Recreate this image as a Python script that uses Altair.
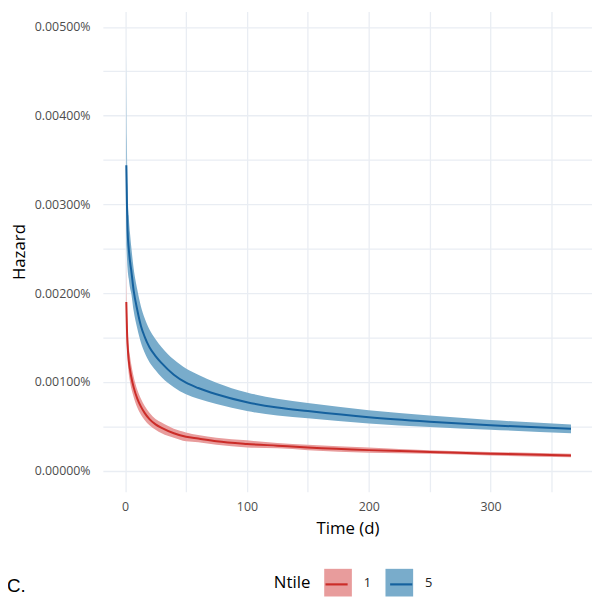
import altair as alt
import pandas as pd

# ---- data ----
times = [1, 1.5, 2, 3, 4, 5, 7, 10, 13, 16, 20, 25, 30, 40, 50, 60, 75, 100, 125, 150, 200, 250, 300, 366]

n5_mean = [0.00344, 0.00300, 0.00272, 0.00250, 0.00236, 0.00226, 0.00203, 0.00181, 0.00163, 0.00151,
           0.00139, 0.00129, 0.00121, 0.00108, 0.00099, 0.00093, 0.00086, 0.00077, 0.00071, 0.00067,
           0.00060, 0.00055, 0.00051, 0.00047]
n5_hi = [0.00470, 0.00370, 0.00320, 0.00287, 0.00268, 0.00253, 0.00228, 0.00204, 0.00185, 0.00172,
         0.00159, 0.00148, 0.00139, 0.00125, 0.00115, 0.00108, 0.00099, 0.00088, 0.00081, 0.00076,
         0.00068, 0.00062, 0.00057, 0.00052]
n5_lo = [0.00255, 0.00240, 0.00228, 0.00216, 0.00206, 0.00200, 0.00180, 0.00160, 0.00144, 0.00133,
         0.00122, 0.00113, 0.00105, 0.00094, 0.00086, 0.00081, 0.00075, 0.00067, 0.00062, 0.00059,
         0.00053, 0.00049, 0.00046, 0.00042]

n1_mean = [0.00190, 0.00160, 0.00143, 0.00124, 0.00114, 0.00106, 0.00094, 0.00081, 0.00072, 0.00065,
           0.00058, 0.00052, 0.00048, 0.00042, 0.00038, 0.00036, 0.00033, 0.00030, 0.00028, 0.00026,
           0.00023, 0.00021, 0.00019, 0.00017]
n1_hi = [0.00240, 0.00185, 0.00163, 0.00140, 0.00129, 0.00120, 0.00106, 0.00091, 0.00081, 0.00073,
         0.00065, 0.00058, 0.00054, 0.00047, 0.00043, 0.00040, 0.00037, 0.00034, 0.00031, 0.00029,
         0.00026, 0.00023, 0.00021, 0.00019]
n1_lo = [0.00150, 0.00138, 0.00125, 0.00109, 0.00100, 0.00093, 0.00083, 0.00071, 0.00063, 0.00057,
         0.00051, 0.00046, 0.00042, 0.00037, 0.00033, 0.00032, 0.00029, 0.00026, 0.00025, 0.00023,
         0.00020, 0.00019, 0.00017, 0.00015]

groups = ["1", "5"]
line_colors = ["#CB2C28", "#15619E"]
fill_colors = ["#E89C9C", "#79ACCB"]

y_ticks = [0, 0.0005, 0.001, 0.0015, 0.002, 0.0025, 0.003, 0.0035, 0.004, 0.0045, 0.005]
x_ticks = [0, 50, 100, 150, 200, 250, 300, 350]

rows = []
for g, m, lo, hi in [("1", n1_mean, n1_lo, n1_hi), ("5", n5_mean, n5_lo, n5_hi)]:
    for t, a, b, c in zip(times, m, lo, hi):
        rows.append({"t": t, "Ntile": g, "Ntile2": g, "mean": a, "lo": b, "hi": c})
df = pd.DataFrame(rows)

FONT = "Open Sans"
LEG_X = 173
LEG_Y = 564

x_enc = alt.X("t:Q", title="Time (d)",
              scale=alt.Scale(domain=[-18.25, 383.25], nice=False, zero=False),
              axis=alt.Axis(values=x_ticks,
                            labelExpr="datum.value % 100 == 0 ? datum.label : ''",
                            grid=True, ticks=False, domain=False,
                            labelPadding=9, titlePadding=8))
y_scale = alt.Scale(domain=[-0.000239, 0.005173], nice=False, zero=False)
y_axis = alt.Axis(values=y_ticks,
                  labelExpr="(round(datum.value*10000) % 10 == 0) ? format(datum.value, '.5f') + '%' : ''",
                  grid=True, ticks=False, domain=False,
                  labelPadding=13, titlePadding=6)

band = alt.Chart(df).mark_area(opacity=1, interpolate="monotone").encode(
    x=x_enc,
    y=alt.Y("hi:Q", title="Hazard", scale=y_scale, axis=y_axis),
    y2="lo:Q",
    fill=alt.Fill("Ntile:N", scale=alt.Scale(domain=groups, range=fill_colors),
                  legend=alt.Legend(title="Ntile", symbolType="square",
                                    symbolStrokeWidth=0, symbolOpacity=1,
                                    orient="none", legendX=LEG_X, legendY=LEG_Y,
                                    direction="horizontal", titleOrient="left",
                                    symbolSize=784, labelFontSize=13, labelOffset=12,
                                    columnPadding=14, titleFontSize=17, titlePadding=14,
                                    labelFont=FONT, titleFont=FONT, titleFontWeight="normal",
                                    labelColor="#222222", titleColor="black",
                                    titleBaseline="middle", titleAnchor="middle")),
    detail="Ntile:N",
)

line = alt.Chart(df).mark_line(strokeWidth=2, interpolate="monotone").encode(
    x="t:Q",
    y="mean:Q",
    stroke=alt.Stroke("Ntile2:N", scale=alt.Scale(domain=groups, range=line_colors),
                      legend=alt.Legend(title=None, symbolType="M-0.8,0H0.8",
                                        symbolStrokeWidth=2.2, symbolFillColor="transparent",
                                        orient="none", legendX=LEG_X + 48, legendY=LEG_Y,
                                        direction="horizontal", symbolSize=784,
                                        labelExpr="''", labelFontSize=13, labelOffset=12,
                                        columnPadding=21.4)),
)

chart = alt.layer(band, line).resolve_scale(fill="independent", stroke="independent").properties(
    width=495, height=486,
    padding={"left": 96, "top": 0, "right": 0, "bottom": 106},
    autosize=alt.AutoSizeParams(type="none"),
    title=alt.TitleParams("C.", orient="bottom", anchor="start", frame="group", dx=-97, offset=-20,
                          fontSize=19, fontWeight="normal", font="Liberation Sans", color="black"),
).configure_view(stroke=None).configure_axis(
    labelFont=FONT, titleFont=FONT, labelFontSize=12.5, titleFontSize=17,
    labelColor="#4D4D4D", titleColor="black", titleFontWeight="normal",
    gridColor="#E9EDF3", gridWidth=1.3,
)

chart.save("out.html", embed_options={"renderer": "svg", "actions": False})
